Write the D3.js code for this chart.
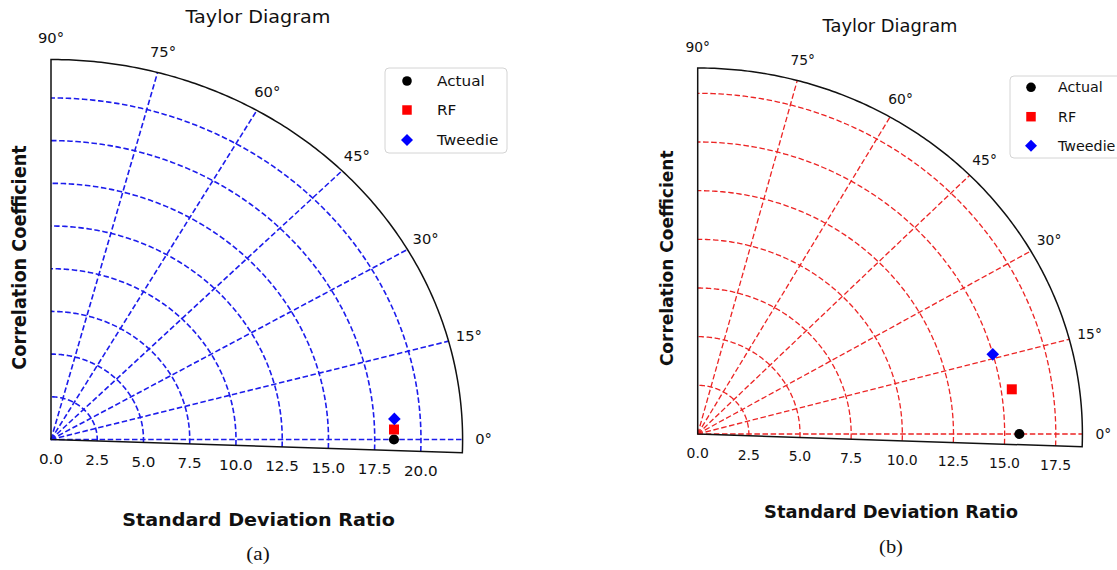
<!DOCTYPE html>
<html>
<head>
<meta charset="utf-8">
<script src="https://cdn.jsdelivr.net/npm/d3@7/dist/d3.min.js"></script>
<style>
  body { margin: 0; background: #fff; }
  text { font-family: "DejaVu Sans", sans-serif; fill: #111; }
</style>
</head>
<body>
<div id="chart"></div>
<script>
// models shown in both diagrams
const models = ["Actual", "RF", "Tweedie"];

// panel (a): standard deviation and correlation of each model
const stdA = [18.54, 18.55, 18.60];
const corrA = [1.0, 0.9995, 0.9979];

// panel (b)
const stdB = [15.72, 15.52, 14.99];
const corrB = [1.0, 0.9890, 0.9620];

// tick values / labels
const radTicksA = [0, 2.5, 5, 7.5, 10, 12.5, 15, 17.5, 20];
const radTicksB = [0, 2.5, 5, 7.5, 10, 12.5, 15, 17.5];
const angleTicks = [0, 15, 30, 45, 60, 75, 90];
const captions = ["(a)", "(b)"];

const W = 1117, H = 570;
const THETA_MIN = -2; // the bottom spine sits slightly below 0°

const svg = d3.select("#chart").append("svg")
    .attr("width", W).attr("height", H);

// layout of the two pasted figures (each one is a bit wider than tall)
const panels = [
    { std: stdA, corr: corrA, ticks: radTicksA, caption: captions[0],
      ox: 51, oy: 439.5, Rx: 411.6, Ry: 380, rmax: 22.25,
      grid: "#1c1cec", gw: 1.6, sx: 1.083,
      fLab: 17.7, fTick: 14, fAng: 13.6, fLeg: 14.1,
      title: [258, 17], xlab: [258.5, 520], ylab: [19.5, 257.5], cap: [258, 553],
      legend: { x: 385, y: 68, w: 122, h: 85, mx: 22, tx: 52, rows: [13, 42, 72] } },
    { std: stdB, corr: corrB, ticks: radTicksB, caption: captions[1],
      ox: 697.7, oy: 434, Rx: 384.7, Ry: 366, rmax: 18.8,
      grid: "#ec2424", gw: 1.3, sx: 1.05,
      fLab: 17, fTick: 13.3, fAng: 13.2, fLeg: 13.6,
      title: [890, 26], xlab: [891, 512.3], ylab: [666.7, 258.3], cap: [891, 546],
      legend: { x: 1010, y: 76, w: 130, h: 82, mx: 21, tx: 48, rows: [11.3, 40.7, 69.7] } }
];

const markerColor = ["#000", "#ff0000", "#0000ff"];
const markerShape = [d3.symbolCircle, d3.symbolSquare, d3.symbolSquare];
const markerSize = [80, 100, 80];
const markerRot = [0, 0, 45];

const rad = d => d * Math.PI / 180;

// horizontal text, stretched like the pasted image
function label(g, x, y, str, size, sx, anchor) {
    return g.append("text")
        .attr("transform", `translate(${x},${y}) scale(${sx},1)`)
        .attr("text-anchor", anchor || "middle")
        .attr("dominant-baseline", "central")
        .style("font-size", size + "px")
        .text(str);
}

panels.forEach(p => {
    const g = svg.append("g");

    const x = d3.scaleLinear().domain([0, p.rmax]).range([p.ox, p.ox + p.Rx]);
    const y = d3.scaleLinear().domain([0, p.rmax]).range([p.oy, p.oy - p.Ry]);
    const pt = (r, deg) => [x(r * Math.cos(rad(deg))), y(r * Math.sin(rad(deg)))];

    const line = d3.line();
    const arcPts = r => d3.range(THETA_MIN, 90.001, 0.5).map(a => pt(r, a));

    // radial grid (arcs)
    g.selectAll(".arc").data(p.ticks.filter(t => t > 0)).enter()
        .append("path")
        .attr("d", r => line(arcPts(r)))
        .attr("fill", "none")
        .attr("stroke", p.grid)
        .attr("stroke-width", p.gw)
        .attr("stroke-dasharray", "5.5,2.6");

    // angular grid (spokes)
    g.selectAll(".spoke").data(angleTicks.filter(a => a < 90)).enter()
        .append("path")
        .attr("d", a => line([pt(0, a), pt(p.rmax, a)]))
        .attr("stroke", p.grid)
        .attr("stroke-width", p.gw)
        .attr("stroke-dasharray", "5.5,2.6");

    // frame: bottom spine, outer arc, left spine
    g.append("path")
        .attr("d", line([pt(0, 0), ...arcPts(p.rmax)]) + "Z")
        .attr("fill", "none")
        .attr("stroke", "#111")
        .attr("stroke-width", 1.5);

    // radial tick labels along bottom spine
    p.ticks.forEach(t => {
        const [tx, ty] = pt(t, THETA_MIN);
        label(g, tx, ty + 19, t.toFixed(1), p.fTick, p.sx);
    });

    // angle labels
    const off = 21;
    angleTicks.forEach(a => {
        const [ax, ay] = pt(p.rmax, a);
        label(g, ax + off * Math.cos(rad(a)), ay - off * Math.sin(rad(a)), a + "°", p.fAng, p.sx);
    });

    // model points
    models.forEach((m, i) => {
        const deg = Math.acos(p.corr[i]) * 180 / Math.PI;
        const [px, py] = pt(p.std[i], deg);
        g.append("path")
            .attr("d", d3.symbol().type(markerShape[i]).size(markerSize[i]))
            .attr("transform", `translate(${px},${py}) rotate(${markerRot[i]})`)
            .attr("fill", markerColor[i]);
    });

    // titles
    label(g, p.title[0], p.title[1], "Taylor Diagram", p.fLab, p.sx);
    label(g, p.xlab[0], p.xlab[1], "Standard Deviation Ratio", p.fLab, p.sx)
        .style("font-weight", "bold");
    g.append("text")
        .attr("transform", `translate(${p.ylab[0]},${p.ylab[1]}) rotate(-90) scale(1,${p.sx})`)
        .attr("text-anchor", "middle").attr("dominant-baseline", "central")
        .style("font-size", p.fLab + "px").style("font-weight", "bold")
        .text("Correlation Coefficient");

    label(g, p.cap[0], p.cap[1], p.caption, 19.5, p.sx)
        .style("font-family", "'Liberation Serif', serif");

    // legend
    const L = p.legend;
    const lg = g.append("g").attr("transform", `translate(${L.x},${L.y})`);
    lg.append("rect")
        .attr("width", L.w).attr("height", L.h).attr("rx", 4)
        .attr("fill", "#fff").attr("stroke", "#d4d4d4").attr("stroke-width", 1);
    models.forEach((m, i) => {
        const ry = L.rows[i];
        lg.append("path")
            .attr("d", d3.symbol().type(markerShape[i]).size(markerSize[i] * 0.9))
            .attr("transform", `translate(${L.mx},${ry}) rotate(${markerRot[i]})`)
            .attr("fill", markerColor[i]);
        label(lg, L.tx, ry, m, p.fLeg, p.sx, "start");
    });
});
</script>
</body>
</html>
